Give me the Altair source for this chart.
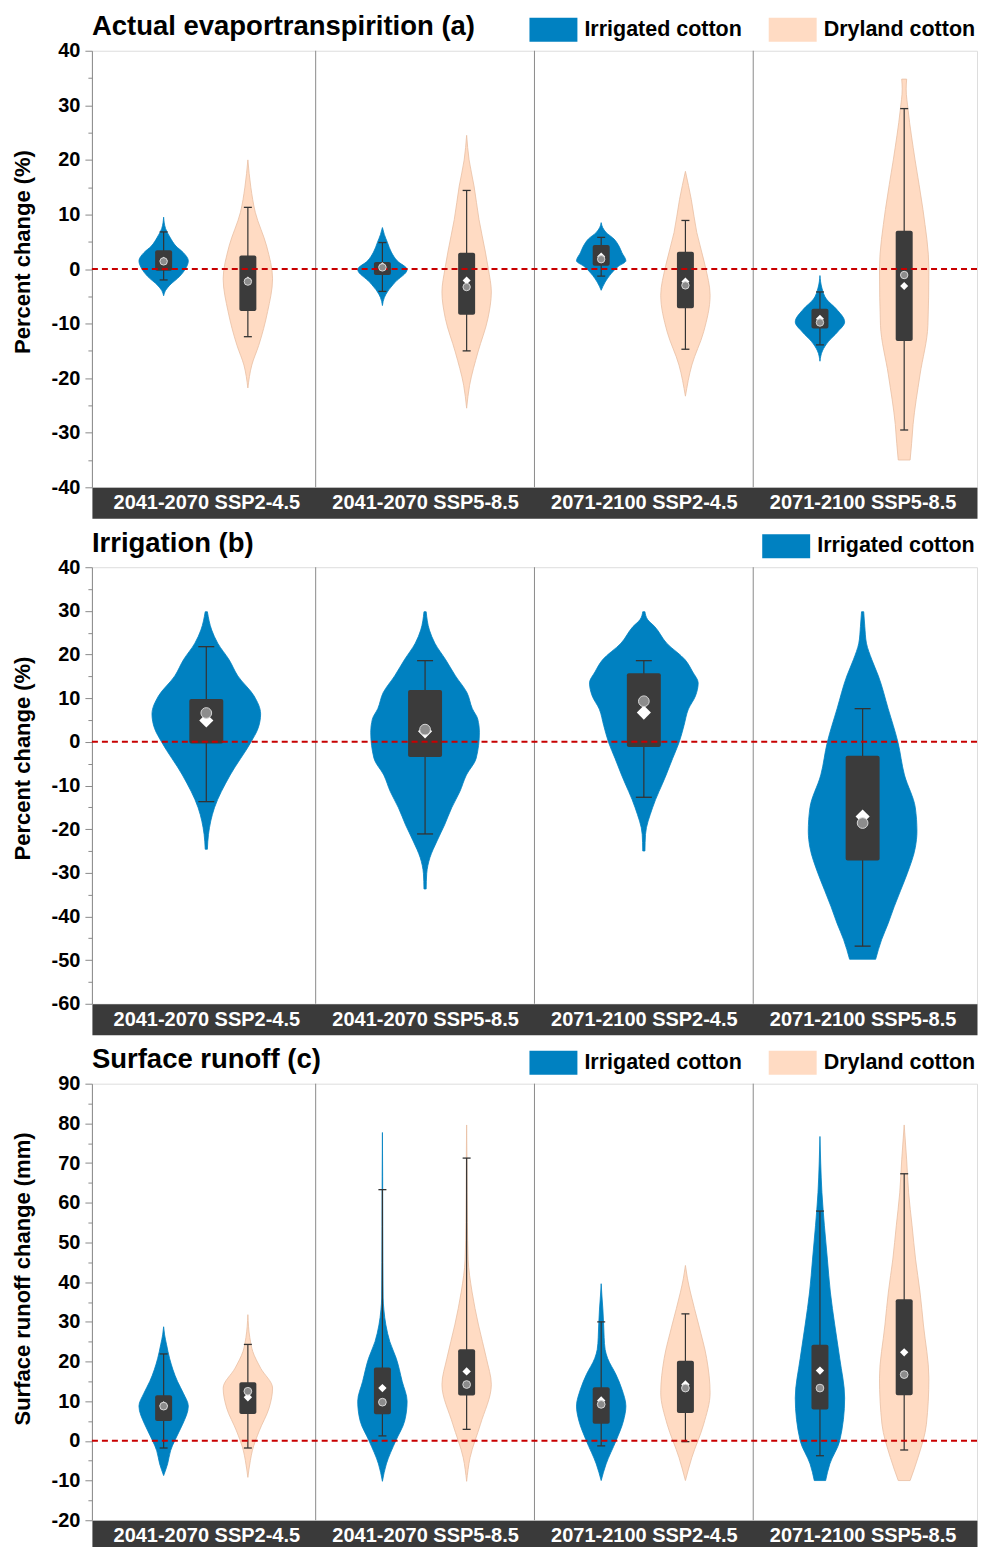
import altair as alt
import pandas as pd

FONT = "Liberation Sans"

PERIODS = ["2041-2070 SSP2-4.5", "2041-2070 SSP5-8.5", "2071-2100 SSP2-4.5", "2071-2100 SSP5-8.5"]
GROUPS = ["Irrigated cotton", "Dryland cotton"]
FILL = ["#0081C1", "#FFDBC3"]
EDGE = ["#0081C1", "#E9BFA3"]

# ---------------- Panel (a): actual evapotranspiration, % change ----------------
# violin outlines: (value, relative density 0..1)
AET_IRR_SHAPE = [
    [(-4.9, 0), (-3.9, 0.08), (-3, 0.24), (-1.3, 0.66), (0, 0.88), (1.5, 1.0), (3, 0.8), (4.2, 0.5), (5.8, 0.26), (7.4, 0.08), (9.5, 0)],
    [(-6.7, 0), (-5.2, 0.08), (-4.2, 0.2), (-2.4, 0.52), (-0.1, 1.0), (1.5, 0.6), (3.1, 0.36), (4.9, 0.2), (6.3, 0.08), (7.6, 0)],
    [(-3.9, 0), (-2.4, 0.16), (-1.2, 0.34), (0.5, 0.7), (1.5, 1.0), (3, 0.84), (4.2, 0.72), (5.5, 0.52), (6.7, 0.2), (7.6, 0.06), (8.5, 0)],
    [(-16.9, 0), (-15, 0.1), (-13.3, 0.34), (-11.5, 0.72), (-9.7, 1.0), (-7.3, 0.66), (-5.5, 0.26), (-3.5, 0.08), (-1.2, 0)],
]
AET_DRY_SHAPE = [
    [(-21.8, 0), (-17.6, 0.16), (-14, 0.44), (-7.8, 0.8), (-1.8, 1.0), (4.2, 0.76), (10.4, 0.3), (15, 0.12), (20, 0)],
    [(-25.5, 0), (-21.3, 0.12), (-15.2, 0.46), (-9.1, 0.86), (-4.2, 1.0), (0, 0.88), (3.1, 0.76), (9.1, 0.5), (15.2, 0.3), (20, 0.1), (24.5, 0)],
    [(-23.3, 0), (-17.6, 0.26), (-11.5, 0.74), (-4.8, 1.0), (0.6, 0.8), (6.7, 0.46), (12.7, 0.24), (17.9, 0)],
    [(-35, 0.24), (-32, 0.3), (-28.5, 0.36), (-19.4, 0.64), (-10.3, 0.96), (0, 1.0), (10.9, 0.76), (20, 0.44), (29.1, 0.16), (33, 0.08), (34.8, 0.1)],
]
AET_IRR_LO = [-2.0, -4.1, -1.3, -13.9]
AET_IRR_Q1 = [-0.3, -1.1, 0.6, -10.9]
AET_IRR_Q3 = [3.45, 1.3, 4.4, -7.3]
AET_IRR_HI = [6.8, 4.85, 5.8, -4.2]
AET_IRR_MED = [1.4, 0.3, 1.8, -9.8]
AET_IRR_MEAN = [1.5, 0.5, 2.3, -9.1]
AET_DRY_LO = [-12.4, -15.0, -14.7, -29.5]
AET_DRY_Q1 = [-7.7, -8.4, -7.2, -13.2]
AET_DRY_Q3 = [2.5, 3.0, 3.15, 7.0]
AET_DRY_HI = [11.3, 14.4, 8.9, 29.4]
AET_DRY_MED = [-2.3, -3.3, -3.0, -1.1]
AET_DRY_MEAN = [-2.1, -2.1, -2.3, -3.1]

# ---------------- Panel (b): irrigation, % change ----------------
IRR_SHAPE = [
    [(-24.6, 0.02), (-21.2, 0.04), (-15.1, 0.15), (-7.6, 0.44), (-0.1, 0.82), (3, 0.95), (6.4, 1.0), (10.5, 0.88), (15.1, 0.58), (18.8, 0.42), (22.6, 0.21), (25.6, 0.1), (29.8, 0.02)],
    [(-33.7, 0.02), (-30.2, 0.03), (-26.5, 0.09), (-22.7, 0.22), (-19, 0.36), (-15.1, 0.49), (-11.4, 0.64), (-7.6, 0.76), (-3.8, 0.94), (2.2, 1.0), (5.2, 0.97), (7.6, 0.87), (11.3, 0.77), (15.1, 0.56), (18.8, 0.38), (22.6, 0.18), (25.6, 0.08), (29.8, 0.02)],
    [(-25, 0.02), (-21.2, 0.03), (-15.1, 0.16), (-7.6, 0.41), (-3.8, 0.53), (-0.1, 0.65), (3.8, 0.74), (7.5, 0.82), (10.5, 0.95), (13.5, 1.0), (16, 0.9), (18.8, 0.76), (22.6, 0.42), (26.4, 0.2), (28, 0.07), (29.8, 0.02)],
    [(-49.8, 0.24), (-45.3, 0.35), (-41.6, 0.47), (-37.8, 0.58), (-34, 0.7), (-30.2, 0.82), (-24.2, 0.97), (-20.5, 1.0), (-15.1, 0.97), (-7.6, 0.77), (-0.1, 0.65), (7.6, 0.47), (15.1, 0.29), (18.8, 0.17), (22.6, 0.07), (26.4, 0.04), (29.8, 0.02)],
]
IRR_LO = [-13.7, -21.1, -12.7, -46.8]
IRR_Q1 = [-0.4, -3.5, -1.2, -27.2]
IRR_Q3 = [9.8, 11.9, 15.7, -3.2]
IRR_HI = [21.8, 18.6, 18.6, 7.6]
IRR_MED = [6.6, 2.8, 9.3, -18.6]
IRR_MEAN = [4.9, 2.4, 6.7, -17.1]

# ---------------- Panel (c): surface runoff change, mm ----------------
RUN_IRR_SHAPE = [
    [(-8.75, 0), (-5.8, 0.16), (-2.5, 0.28), (2.5, 0.64), (4.2, 0.77), (8.75, 1.0), (12, 0.8), (15, 0.56), (20.8, 0.24), (24.2, 0.12), (26.7, 0.04), (28.75, 0)],
    [(-10.2, 0), (-5.8, 0.16), (0, 0.54), (5, 0.9), (10, 1.0), (15, 0.8), (20.8, 0.56), (25, 0.3), (29.2, 0.14), (33, 0.06), (36, 0.03), (45, 0.02), (54, 0.015), (66.7, 0.01), (77.7, 0)],
    [(-10, 0), (-5.8, 0.2), (0, 0.6), (5, 0.9), (8.75, 1.0), (13, 0.84), (16.7, 0.6), (20.8, 0.26), (23, 0.16), (26, 0.12), (29.2, 0.1), (33, 0.07), (36.5, 0.03), (39.6, 0)],
    [(-10, 0.23), (-5.8, 0.4), (0, 0.8), (10.8, 1.0), (20.8, 0.8), (29.2, 0.6), (37.5, 0.42), (45.8, 0.3), (54.2, 0.18), (62.5, 0.08), (70, 0.03), (76.7, 0)],
]
RUN_DRY_SHAPE = [
    [(-9.2, 0), (-5, 0.1), (-2.5, 0.18), (2.5, 0.46), (8.3, 0.86), (13.3, 1.0), (18.3, 0.52), (22.5, 0.2), (26, 0.08), (31.8, 0)],
    [(-10.2, 0), (-4.2, 0.14), (4.2, 0.56), (14.2, 1.0), (20.8, 0.8), (29.2, 0.48), (37.5, 0.22), (45.8, 0.06), (55, 0.03), (62.5, 0.02), (70, 0.015), (79.6, 0)],
    [(-10, 0), (-4.2, 0.26), (4.2, 0.74), (12.1, 1.0), (20.8, 0.86), (29.2, 0.54), (37.5, 0.2), (41, 0.08), (44.2, 0)],
    [(-10, 0.24), (-4.2, 0.56), (4.2, 0.9), (15.8, 1.0), (29.2, 0.78), (37.5, 0.64), (45.8, 0.46), (54.2, 0.32), (62.5, 0.18), (70.8, 0.1), (79.6, 0)],
]
RUN_IRR_LO = [-1.8, 1.25, -1.25, -3.75]
RUN_IRR_Q1 = [5.0, 6.7, 4.3, 7.9]
RUN_IRR_Q3 = [11.5, 18.5, 13.5, 24.2]
RUN_IRR_HI = [21.9, 63.3, 30.0, 57.9]
RUN_IRR_MED = [8.75, 9.75, 9.2, 13.3]
RUN_IRR_MEAN = [8.9, 13.3, 10.2, 17.7]
RUN_DRY_LO = [-1.8, 2.9, -0.2, -2.3]
RUN_DRY_Q1 = [6.8, 11.4, 7.0, 11.5]
RUN_DRY_Q3 = [14.8, 23.1, 20.2, 35.7]
RUN_DRY_HI = [24.3, 71.25, 32.0, 67.3]
RUN_DRY_MED = [12.5, 14.2, 13.3, 16.7]
RUN_DRY_MEAN = [11.0, 17.5, 14.2, 22.3]

PLOT_W = 886
PLOT_H = 437
FACET_PX = PLOT_W / 4
RECT_SYMBOL = "M-2,-1H2V1H-2Z"


def series(group, shape, lo, q1, q3, hi, med, mean, offset):
    return dict(group=group, shape=shape, lo=lo, q1=q1, q3=q3, hi=hi, med=med, mean=mean, offset=offset)


def build_panel(title, ytitle, ydom, sers, groups, vmax_px, box_px, cap_px,
                med_size, mean_size, legend_x, title_y):
    hw = vmax_px / FACET_PX
    vrows, brows, crows = [], [], []
    for s in sers:
        for i in range(4):
            c = i + s["offset"]
            for v, d in sorted(s["shape"][i]):
                vrows.append({"vid": f"{s['group']}-{i}", "group": s["group"], "v": v,
                              "xl": c - d * hw, "xr": c + d * hw})
            brows.append({"group": s["group"], "c": c, "lo": s["lo"][i], "q1": s["q1"][i],
                          "q3": s["q3"][i], "hi": s["hi"][i], "med": s["med"][i], "mean": s["mean"][i]})
            crows.append({"c": c, "w": s["lo"][i]})
            crows.append({"c": c, "w": s["hi"][i]})
    vdf = pd.DataFrame(vrows)
    bdf = pd.DataFrame(brows)
    cdf = pd.DataFrame(crows)
    sdf = pd.DataFrame({"sep": [1, 2, 3]})
    zdf = pd.DataFrame({"z": [0]})

    fills = [FILL[GROUPS.index(g)] for g in groups]
    edges = [EDGE[GROUPS.index(g)] for g in groups]

    y_major = alt.Axis(
        orient="left", title=ytitle, values=list(range(ydom[0], ydom[1] + 1, 10)),
        labelExpr="'' + datum.value", tickSize=7, grid=False,
        domainColor="#8a8a8a", tickColor="#8a8a8a", labelOverlap=False, labelFlush=False,
        labelFont=FONT, labelFontSize=20, labelFontWeight="bold", labelColor="black", labelPadding=5,
        titleFont=FONT, titleFontSize=22, titleFontWeight="bold", titleColor="black", titlePadding=17,
        titleY=title_y,
    )
    y_minor = alt.Axis(
        orient="left", title=None, values=list(range(ydom[0] + 5, ydom[1], 10)),
        labels=False, domain=False, tickSize=4, tickColor="#8a8a8a", grid=False,
    )
    x_strip = alt.Axis(
        orient="bottom", title=None, values=[0.5, 1.5, 2.5, 3.5], labels=False, ticks=False,
        domainWidth=31, domainColor="#3A3A3A", offset=15.5, grid=False,
    )
    x_labels = alt.Axis(
        orient="bottom", title=None, values=[0.5, 1.5, 2.5, 3.5],
        labelExpr="[" + ",".join(f"'{p}'" for p in PERIODS) + "][floor(datum.value)]",
        domain=False, offset=15.5, ticks=False, tickSize=0, labelLimit=400,
        labelBaseline="middle", labelPadding=0, labelColor="white", labelFont=FONT,
        labelFontSize=20, labelFontWeight="bold", labelOverlap=False, labelFlush=False, grid=False,
    )
    yscale = alt.Scale(domain=ydom, nice=False, zero=False)
    xscale = alt.Scale(domain=[0, 4], nice=False, zero=False)

    legend = alt.Legend(
        orient="none", legendX=legend_x, legendY=-33, direction="horizontal", title=None,
        symbolType=RECT_SYMBOL, symbolSize=576, symbolStrokeWidth=0, symbolOpacity=1,
        labelFont=FONT, labelFontSize=21.5, labelFontWeight="bold", labelColor="black",
        labelOffset=19, columnPadding=26.5, labelLimit=400, padding=0,
    )

    violins = alt.Chart(vdf).mark_area(orient="horizontal", interpolate="monotone", opacity=1,
                                       strokeWidth=0.8).encode(
        y=alt.Y("v:Q", scale=yscale, axis=y_major),
        x=alt.X("xl:Q", scale=xscale, axis=x_strip),
        x2="xr:Q",
        color=alt.Color("group:N", scale=alt.Scale(domain=groups, range=fills), legend=legend),
        stroke=alt.Stroke("group:N", scale=alt.Scale(domain=groups, range=edges), legend=None),
        detail="vid:N",
    )
    seps = alt.Chart(sdf).mark_rule(color="#8a8a8a", strokeWidth=1).encode(
        x=alt.X("sep:Q", axis=x_labels))
    whisk = alt.Chart(bdf).mark_rule(color="#333333", strokeWidth=1.2).encode(
        x=alt.X("c:Q", axis=None), y=alt.Y("lo:Q", axis=y_minor), y2="hi:Q")
    caps = alt.Chart(cdf).mark_tick(orient="horizontal", size=cap_px, thickness=1.3,
                                    color="#333333", opacity=1).encode(
        x=alt.X("c:Q", axis=None), y=alt.Y("w:Q", axis=None))
    boxes = alt.Chart(bdf).mark_bar(size=box_px, color="#3B3B3B", cornerRadius=2, opacity=1).encode(
        x=alt.X("c:Q", axis=None), y=alt.Y("q1:Q", axis=None), y2="q3:Q")
    zero = alt.Chart(zdf).mark_rule(color="#C80000", strokeDash=[6, 4], strokeWidth=2).encode(
        y=alt.Y("z:Q", axis=None))
    means = alt.Chart(bdf).mark_point(shape="diamond", filled=True, size=mean_size, color="white",
                                      opacity=1).encode(x=alt.X("c:Q", axis=None), y=alt.Y("mean:Q", axis=None))
    meds = alt.Chart(bdf).mark_point(shape="circle", filled=True, size=med_size, fill="#8C8C8C",
                                     stroke="#D6D6D6", strokeWidth=1, opacity=1).encode(
        x=alt.X("c:Q", axis=None), y=alt.Y("med:Q", axis=None))

    return alt.layer(violins, seps, whisk, caps, boxes, zero, means, meds).resolve_axis(
        x="independent", y="independent"
    ).properties(
        width=PLOT_W, height=PLOT_H,
        title=alt.TitleParams(title, anchor="start", frame="group", font=FONT, fontSize=27.5,
                              fontWeight="bold", color="black", offset=-23),
    )


panel_a = build_panel(
    "Actual evaportranspirition (a)", "Percent change (%)", [-40, 40],
    [series(GROUPS[0], AET_IRR_SHAPE, AET_IRR_LO, AET_IRR_Q1, AET_IRR_Q3, AET_IRR_HI, AET_IRR_MED, AET_IRR_MEAN, 0.305),
     series(GROUPS[1], AET_DRY_SHAPE, AET_DRY_LO, AET_DRY_Q1, AET_DRY_Q3, AET_DRY_HI, AET_DRY_MED, AET_DRY_MEAN, 0.69)],
    GROUPS, 25, 17, 8, 55, 64, 450, 201)

panel_b = build_panel(
    "Irrigation (b)", "Percent change (%)", [-60, 40],
    [series(GROUPS[0], IRR_SHAPE, IRR_LO, IRR_Q1, IRR_Q3, IRR_HI, IRR_MED, IRR_MEAN, 0.5)],
    GROUPS[:1], 55, 34, 16, 115, 200, 683, 191)

panel_c = build_panel(
    "Surface runoff (c)", "Surface runoff change (mm)", [-20, 90],
    [series(GROUPS[0], RUN_IRR_SHAPE, RUN_IRR_LO, RUN_IRR_Q1, RUN_IRR_Q3, RUN_IRR_HI, RUN_IRR_MED, RUN_IRR_MEAN, 0.305),
     series(GROUPS[1], RUN_DRY_SHAPE, RUN_DRY_LO, RUN_DRY_Q1, RUN_DRY_Q3, RUN_DRY_HI, RUN_DRY_MED, RUN_DRY_MEAN, 0.69)],
    GROUPS, 25, 17, 8, 60, 70, 450, 195)

chart = alt.vconcat(panel_a, panel_b, panel_c, spacing=16).resolve_scale(
    color="independent", stroke="independent", x="independent", y="independent"
).resolve_legend(color="independent", stroke="independent").properties(
    padding={"left": 2, "top": 4, "right": 0, "bottom": 0}
).configure_view(stroke="#8a8a8a", strokeWidth=1).configure(font=FONT, background="white")

chart.save("out.html", embed_options={"renderer": "svg", "actions": False})
